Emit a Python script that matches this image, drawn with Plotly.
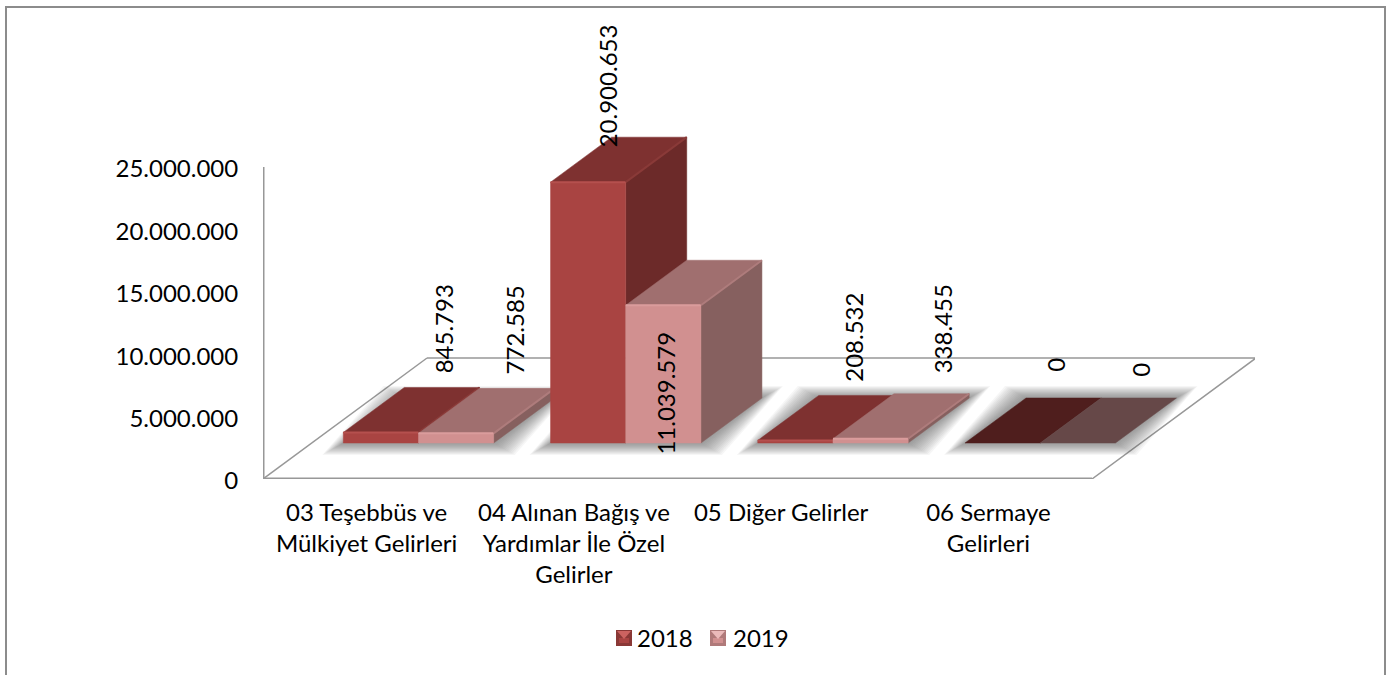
import plotly.graph_objects as go

categories = ["03 Teşebbüs ve<br>Mülkiyet Gelirleri", "04 Alınan Bağış ve<br>Yardımlar İle Özel<br>Gelirler",
              "05 Diğer Gelirler", "06 Sermaye<br>Gelirleri"]
series_names = ["2018", "2019"]
values_2018 = [845793, 20900653, 208532, 0]
values_2019 = [772585, 11039579, 338455, 0]
y_ticks = [0, 5000000, 10000000, 15000000, 20000000, 25000000]

# label nudges in pixels from the top of each bar (right, up)
label_shift_2018 = [(33, 81), (-11, 74), (28, 81), (22, 56)]
label_shift_2019 = [(28, 81), (-28, -110), (41, 87), (32, 51)]

FONT = "Lato"
FONT_SIZE = 24
W, H = 1394, 675
PX_X = 1 / 207.25      # one pixel in category units
PX_Y = 25000000 / 312  # one pixel in value units

# oblique projection of the floor depth
FLOOR_DX = 164 * PX_X
FLOOR_DY = 121 * PX_Y
BAR_W = 75.2 * PX_X
BAR_START = 0.152
D_FRONT = 36 / 121
D_BAR = 45 / 121

styles = [
    dict(front="#A94442", top="#7E3130", side="#6C2A29", zero="#4F1E1D", edge="#B5504E", top_edge="#8A3A38",
         sw_dark="#8A3836", sw_mid="#A94442", sw_light="#CC6360"),
    dict(front="#D19090", top="#A06F6F", side="#86605F", zero="#664848", edge="#DA9C9C", top_edge="#AE7C7C",
         sw_dark="#B07A7A", sw_mid="#D19090", sw_light="#EBBABA"),
]
AXIS = "#989898"


def proj(x, v, d):
    return x + d * FLOOR_DX, v + d * FLOOR_DY


def poly(points, color, line=0.5):
    return go.Scatter(x=[p[0] for p in points] + [points[0][0]], y=[p[1] for p in points] + [points[0][1]],
                      mode="lines", fill="toself", fillcolor=color, line=dict(width=line, color=color),
                      hoverinfo="skip", showlegend=False)


def edge(points, color, width=1.5):
    return go.Scatter(x=[p[0] for p in points], y=[p[1] for p in points], mode="lines", cliponaxis=False,
                      line=dict(color=color, width=width), hoverinfo="skip", showlegend=False)


def swatch(left, top, st):
    # small bevelled legend square, in page pixels
    def path(pts, color):
        d = " ".join(("M" if k == 0 else "L") + f" {px / W} {1 - py / H}" for k, (px, py) in enumerate(pts)) + " Z"
        return dict(type="path", xref="paper", yref="paper", path=d, fillcolor=color, line=dict(width=0))
    s = 16
    return [
        path([(left, top), (left + s, top), (left + s, top + s), (left, top + s)], st["sw_dark"]),
        path([(left + 3, top + 8), (left + s - 3, top + 8), (left + s - 3, top + s - 3), (left + 3, top + s - 3)], st["sw_mid"]),
        path([(left + 1, top + 1), (left + s - 1, top + 1), (left + s / 2, top + 9)], st["sw_light"]),
    ]


fig = go.Figure()

# floor and axes
fig.add_trace(edge([proj(0, 0, 1), proj(4, 0, 1), proj(4, 0, 0)], AXIS, 1.5))
fig.add_trace(edge([proj(0, 0, 0), proj(0, 0, 1)], AXIS, 1.5))
fig.add_trace(edge([(0, y_ticks[-1]), (0, 0), (4, 0)], AXIS, 3))

# soft shadows under each category
for i in range(4):
    x0 = i + BAR_START
    x1 = x0 + 2 * BAR_W
    for step in range(14, 0, -1):
        eh = step * 1.5 * PX_X
        ev = step * 0.85 * PX_Y
        fig.add_trace(poly([
            proj(x0 - eh, -ev, D_FRONT),
            proj(x1 + eh, -ev, D_FRONT),
            (proj(x1, 0, D_FRONT + D_BAR)[0] + eh, proj(x1, 0, D_FRONT + D_BAR)[1] + ev),
            (proj(x0, 0, D_FRONT + D_BAR)[0] - eh, proj(x0, 0, D_FRONT + D_BAR)[1] + ev),
        ], "rgba(70,70,70,0.05)", line=0))

# bars, back to front
for i in range(4):
    for s, vals in enumerate([values_2018, values_2019]):
        st = styles[s]
        v = vals[i]
        x0 = i + BAR_START + s * BAR_W
        x1 = x0 + BAR_W
        fl, fr = proj(x0, 0, D_FRONT), proj(x1, 0, D_FRONT)
        tl, tr = proj(x0, v, D_FRONT), proj(x1, v, D_FRONT)
        bl, br = proj(x0, v, D_FRONT + D_BAR), proj(x1, v, D_FRONT + D_BAR)
        rb = proj(x1, 0, D_FRONT + D_BAR)
        if v > 0:
            fig.add_trace(poly([fr, rb, br, tr], st["side"]))
        fig.add_trace(poly([tl, tr, br, bl], st["top"] if v > 0 else st["zero"]))
        if v > 0:
            fig.add_trace(poly([fl, fr, tr, tl], st["front"]))
            fig.add_trace(edge([tl, tr], st["edge"], 2))
            fig.add_trace(edge([tr, br], st["top_edge"], 2))

# legend entries, the squares themselves are bevelled shapes below
for s, name in enumerate(series_names):
    fig.add_trace(go.Scatter(x=[None], y=[None], mode="markers", name=name,
                             marker=dict(symbol="square", size=1, color="rgba(0,0,0,0)",
                                         line=dict(width=0))))

# data labels
for vals, shifts, s in [(values_2018, label_shift_2018, 0), (values_2019, label_shift_2019, 1)]:
    for i, v in enumerate(vals):
        ax, ay = proj(i + BAR_START + (s + 0.5) * BAR_W, v, D_FRONT + D_BAR / 2)
        fig.add_annotation(x=ax, y=ay, xref="x", yref="y", text=f"{v:,}".replace(",", "."),
                           textangle=-90, showarrow=False, xanchor="center", yanchor="middle",
                           xshift=shifts[i][0], yshift=shifts[i][1],
                           font=dict(family=FONT, size=FONT_SIZE, color="#000000"))

border = dict(type="path", xref="paper", yref="paper",
              path=f"M {6 / W} 0 L {6 / W} {1 - 7 / H} L {1385 / W} {1 - 7 / H} L {1385 / W} 0",
              line=dict(color="#8C8C8C", width=2))

fig.update_layout(
    width=W,
    height=H,
    margin=dict(l=0, r=0, t=0, b=0),
    paper_bgcolor="#FFFFFF",
    plot_bgcolor="rgba(0,0,0,0)",
    font=dict(family=FONT, size=FONT_SIZE, color="#000000"),
    xaxis=dict(domain=[263 / W, 1255 / W], range=[0, 992 * PX_X], showgrid=False, zeroline=False,
               showline=False, tickmode="array", tickvals=[i + 0.5 for i in range(4)], ticktext=categories,
               ticks="outside", ticklen=12, tickcolor="rgba(0,0,0,0)", tickangle=0, automargin=False),
    yaxis=dict(domain=[1 - 479 / H, 1], range=[0, 479 * PX_Y], showgrid=False, zeroline=False,
               showline=False, tickmode="array", tickvals=y_ticks,
               ticktext=[f"{t:,}".replace(",", ".") for t in y_ticks], ticklabelshift=2,
               ticks="outside", ticklen=19, tickcolor="rgba(0,0,0,0)", automargin=False),
    legend=dict(orientation="h", x=597 / W, y=1 - 638 / H, xanchor="left", yanchor="middle",
                entrywidth=51, entrywidthmode="pixels",
                font=dict(family=FONT, size=FONT_SIZE), bgcolor="rgba(0,0,0,0)"),
    shapes=[border] + swatch(616, 630, styles[0]) + swatch(710, 630, styles[1]),
)

# the default page adds an 8px body margin, which would shift the whole chart
fig.write_html("out.html", config={"displayModeBar": False}, post_script="document.body.style.margin='0';")
